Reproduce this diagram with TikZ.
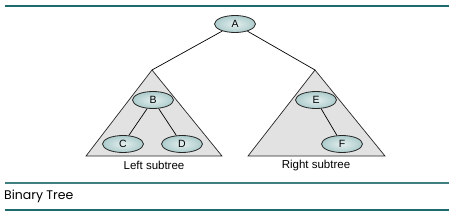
\documentclass[tikz,border=0pt]{standalone}
\usepackage{fontspec}
\setmainfont{Liberation Sans}
\newfontfamily\capfont{Poppins}
\usetikzlibrary{shapes.geometric}
\definecolor{teal1}{HTML}{1F6B6B}
\definecolor{teal2}{HTML}{3F7F7F}
\definecolor{nodefill}{HTML}{BCD6D6}
\definecolor{trifill}{HTML}{E2E2E2}
\begin{document}
\begin{tikzpicture}[x=1pt,y=-1pt,
  tnode/.style={ellipse, draw=black!85, line width=0.8pt, inner color=nodefill!40, outer color=nodefill!90!teal1,
    minimum width=41pt, minimum height=17pt, inner sep=0pt, font=\fontsize{10.5}{12}\selectfont},
  tri/.style={draw=black!85, line width=0.7pt, fill=trifill},
  edge/.style={draw=black, line width=0.7pt},
  lbl/.style={font=\fontsize{11.5}{13}\selectfont}]
\useasboundingbox (0,0) rectangle (454,217);
\draw[teal1, line width=2pt] (5,5.5) -- (449,5.5);
\draw[teal2, line width=1.2pt] (5,183) -- (449,183);
\draw[teal1, line width=2pt] (5,210) -- (449,210);
\coordinate (lt) at (152,70);
\coordinate (rt) at (315,70);
\path[tri] (lt) -- (222,156) -- (86,156) -- cycle;
\path[tri] (rt) -- (385,156) -- (248,156) -- cycle;
\node[tnode] (A) at (235,24) {A};
\node[tnode] (B) at (153,100) {B};
\node[tnode] (C) at (123,144) {C};
\node[tnode] (D) at (182,144) {D};
\node[tnode] (E) at (316,100) {E};
\node[tnode] (F) at (342,144) {F};
\draw[edge] (A) -- (lt);
\draw[edge] (A) -- (rt);
\draw[edge] (B) -- (C);
\draw[edge] (B) -- (D);
\draw[edge] (E) -- (F);
\node[lbl] (ls) at (154,165) {Left subtree};
\node[lbl] (rs) at (316,166) {Right subtree};
\node[anchor=west, inner sep=0pt, font=\capfont\fontsize{12.5}{14}\selectfont] (cap) at (4,196) {Binary Tree};
\end{tikzpicture}
\end{document}
